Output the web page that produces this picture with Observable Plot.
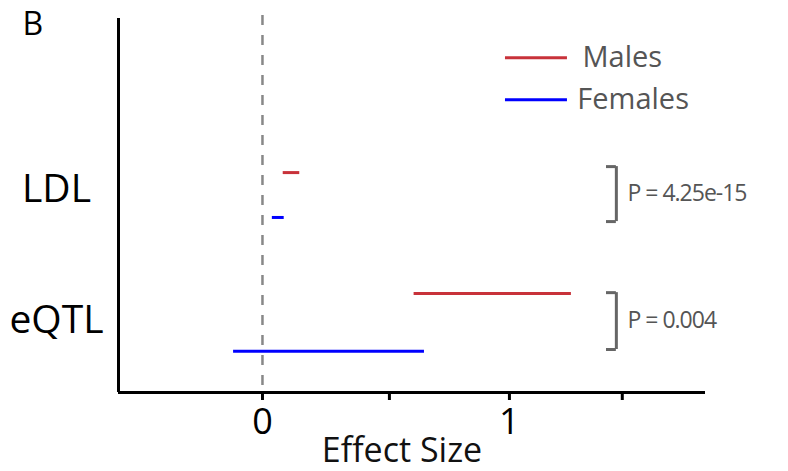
<!DOCTYPE html>
<html><head><meta charset="utf-8">
<script src="https://cdn.jsdelivr.net/npm/d3@7"></script>
<script src="https://cdn.jsdelivr.net/npm/@observablehq/plot@0.6"></script>
<style>body{margin:0;background:#fff;} svg{font-family:"Open Sans",sans-serif;}</style>
</head><body><div id="chart"></div>
<script>
// data
const traits = ["LDL", "LDL", "eQTL", "eQTL"];
const sexes = ["Males", "Females", "Males", "Females"];
const lows = [0.084, 0.040, 0.614, -0.117];
const highs = [0.151, 0.088, 1.251, 0.656];
const rowPos = [0.412, 0.532, 0.735, 0.890];
const traitNames = ["LDL", "eQTL"];
const traitPos = [0.457, 0.807];
const pLabels = ["P = 4.25e-15", "P = 0.004"];
const bracketTop = [0.396, 0.733];
const bracketBottom = [0.543, 0.885];
const xTicks = [0, 0.514, 1, 1.457];
const xTickLabels = ["0", "", "1", ""];
const legendSex = ["Males", "Females"];
const legendPos = [0.105, 0.217];
const legendTextX = [1.296, 1.275];

const segs = traits.map((t, i) => ({trait: t, sex: sexes[i], lo: lows[i], hi: highs[i], pos: rowPos[i]}));
const labels = traitNames.map((t, i) => ({t, pos: traitPos[i]}));
const brackets = pLabels.map((p, i) => ({p, top: bracketTop[i], bot: bracketBottom[i], mid: (bracketTop[i] + bracketBottom[i]) / 2}));
const legend = legendSex.map((s, i) => ({s, pos: legendPos[i], tx: legendTextX[i]}));

const xMin = -0.583, xMax = 1.794;
const bx = 1.433, bxl = 1.393, px = 1.478;

const chart = Plot.plot({
  width: 788, height: 471,
  marginLeft: 118, marginRight: 83, marginTop: 18, marginBottom: 79,
  style: {fontFamily: "Open Sans"},
  x: {domain: [xMin, xMax], axis: null},
  y: {domain: [0, 1], reverse: true, axis: null},
  color: {domain: ["Males", "Females"], range: ["#c8323a", "#0000ff"]},
  marks: [
    Plot.ruleX([0], {y1: -0.008, y2: 1, stroke: "#888", strokeWidth: 2.5, strokeDasharray: "10,10"}),
    Plot.ruleX([xMin], {stroke: "#000", strokeWidth: 3}),
    Plot.ruleY([1], {stroke: "#000", strokeWidth: 3}),
    Plot.axisX(xTicks, {anchor: "bottom", tickSize: 8, strokeWidth: 3, stroke: "#000", tickPadding: 8, fontSize: 36, fill: "#000",
      tickFormat: d => xTickLabels[xTicks.indexOf(d)], label: null}),
    Plot.text(["Effect Size"], {frameAnchor: "bottom", dx: -10, dy: 45, lineAnchor: "top", fontSize: 34, fill: "#111"}),
    Plot.ruleY(segs, {x1: "lo", x2: "hi", y: "pos", stroke: "sex", strokeWidth: 3}),
    Plot.text(labels, {frameAnchor: "left", y: "pos", text: "t", dx: -62, textAnchor: "middle", fontSize: 39, fill: "#000"}),
    Plot.ruleX(brackets, {x: bx, y1: "top", y2: "bot", stroke: "#666", strokeWidth: 3}),
    Plot.ruleY(brackets, {x1: bxl, x2: bx, y: "top", stroke: "#666", strokeWidth: 3}),
    Plot.ruleY(brackets, {x1: bxl, x2: bx, y: "bot", stroke: "#666", strokeWidth: 3}),
    Plot.text(brackets, {x: px, y: "mid", text: "p", textAnchor: "start", fontSize: 23, fill: "#555"}),
    Plot.ruleY(legend, {x1: 0.984, x2: 1.235, y: "pos", stroke: "s", strokeWidth: 3}),
    Plot.text(legend, {x: "tx", y: "pos", text: "s", textAnchor: "start", fontSize: 29, fill: "#555"}),
    Plot.text(["B"], {frameAnchor: "top-left", dx: -96, dy: -6, lineAnchor: "top", textAnchor: "start", fontSize: 32, fill: "#000"})
  ]
});
d3.select(chart).selectAll("text").filter(function() { return this.textContent.startsWith("P ="); })
  .attr("letter-spacing", "-1px");
document.getElementById("chart").appendChild(chart);
</script></body></html>
